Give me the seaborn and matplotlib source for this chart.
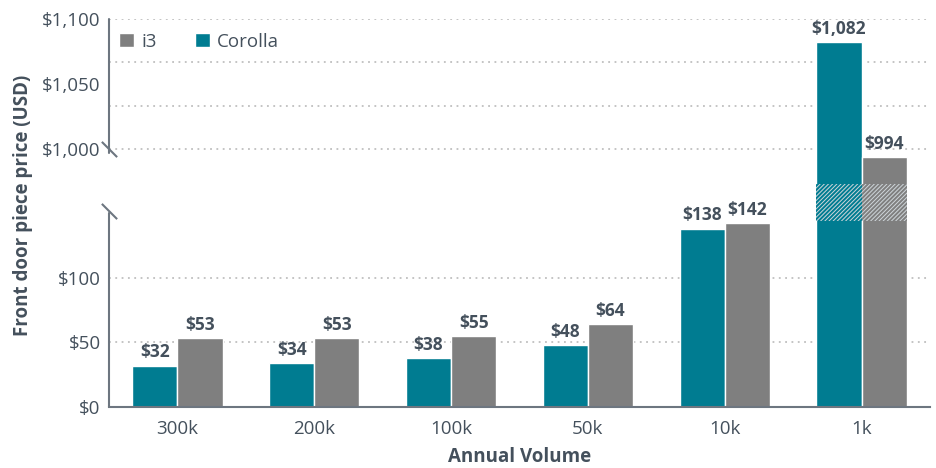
import numpy as np
import pandas as pd
import matplotlib
matplotlib.use("Agg")
import matplotlib.pyplot as plt
import seaborn as sns

# data
volumes = ["300k", "200k", "100k", "50k", "10k", "1k"]
corolla = [32, 34, 38, 48, 138, 1082]
i3 = [53, 53, 55, 64, 142, 994]

df = pd.DataFrame({
    "volume": volumes * 2,
    "price": corolla + i3,
    "model": ["Corolla"] * len(volumes) + ["i3"] * len(volumes),
})

teal = "#007C91"
grey = "#7F7F7F"
text_col = "#44505c"
spine_col = "#6d7680"

sns.set_theme(style="white")
plt.rcParams["font.family"] = ["Open Sans", "DejaVu Sans"]
plt.rcParams["hatch.linewidth"] = 0.7

# broken axis as one piecewise scale: 0-144 and 973-1100 linear,
# the gap in between squeezed (that is the hatched band)
src = [-1000, 0, 144, 973, 1100, 5000]
dst = [-1000, 0, 144, 172.4, 300, 300 + 3900 * 1.0047]


def fwd(v):
    return np.interp(v, src, dst)


def inv(v):
    return np.interp(v, dst, src)


fig = plt.figure(figsize=(9.37, 4.68), dpi=100)
ax = fig.add_axes([0.1163, 0.1303, 0.8762, 0.8291])
ax.set_yscale("function", functions=(fwd, inv))

# dotted grid (Excel-style: labels at 50s, upper grid in thirds)
for g in [50, 100, 1000, 1000 + 100 / 3, 1000 + 200 / 3, 1100]:
    ax.axhline(g, color="#bfbfbf", lw=1.3, ls=(0, (1, 2.5)), zorder=0)

sns.barplot(data=df, x="volume", y="price", hue="model",
            hue_order=["Corolla", "i3"], palette=[teal, grey],
            width=0.66, gap=0, saturation=1, errorbar=None,
            ax=ax, zorder=2)

ax.set_ylim(0, 1100)
ax.set_xlim(-0.5, 5.5)

# value labels
for cont in ax.containers:
    ax.bar_label(cont, labels=[f"${v:,.0f}" for v in cont.datavalues],
                 padding=3, fontsize=12.5, fontweight="bold", color=text_col)

# hatched band across the break on the tall bars
for cont, col in zip(ax.containers, [teal, grey]):
    p = cont.patches[-1]
    ax.add_patch(plt.Rectangle((p.get_x(), 144), p.get_width(), 973 - 144,
                               facecolor=col, edgecolor="#cfd6da", hatch="////////",
                               lw=0, zorder=3))

# axes / spines
for s in ["top", "right", "left"]:
    ax.spines[s].set_visible(False)
ax.spines["bottom"].set_color(spine_col)
ax.spines["bottom"].set_linewidth(1.5)

yt = ax.get_yaxis_transform()
ax.plot([0, 0], [0, 319], color=spine_col, lw=1.5, transform=yt, clip_on=False, zorder=4)
ax.plot([0, 0], [997, 1100], color=spine_col, lw=1.5, transform=yt, clip_on=False, zorder=4)
ax.plot([0, 0], [1000, 363], ls="none", marker=[(-1, 1), (1, -1)], ms=11,
        mec=spine_col, mew=1.5, transform=yt, clip_on=False, zorder=4)

ax.set_yticks([0, 50, 100, 1000, 1050, 1100])
ax.set_yticklabels(["$0", "$50", "$100", "$1,000", "$1,050", "$1,100"])
ax.yaxis.set_minor_locator(matplotlib.ticker.NullLocator())
ax.tick_params(axis="both", length=0, labelsize=13.5, labelcolor=text_col)
ax.tick_params(axis="y", pad=6)
ax.tick_params(axis="x", pad=9)

ax.set_xlabel("Annual Volume", fontsize=13.5, fontweight="bold", color=text_col, labelpad=7)
ax.set_ylabel("Front door piece price (USD)", fontsize=13.5, fontweight="bold",
              color=text_col)
ax.yaxis.set_label_coords(-0.092, 0.52)

# legend: i3 first, then Corolla
h, l = ax.get_legend_handles_labels()
ax.legend(h[::-1], l[::-1], loc="upper left", bbox_to_anchor=(-0.008, 1.008), ncol=2,
          frameon=False, fontsize=13.5, handlelength=0.8, handleheight=0.8,
          handletextpad=0.4, columnspacing=2.0, labelcolor=text_col)

fig.savefig("out.png", dpi=100)
